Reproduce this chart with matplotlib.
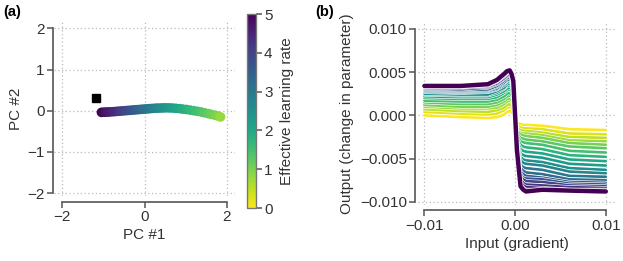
import matplotlib
matplotlib.use("Agg")
import matplotlib.pyplot as plt
import matplotlib.patheffects as pe
import numpy as np
from matplotlib.colors import Normalize
from matplotlib.cm import ScalarMappable

plt.rcParams['font.family'] = ['Liberation Sans', 'DejaVu Sans']
plt.rcParams['font.size'] = 11
plt.rcParams['text.color'] = '#333333'
plt.rcParams['axes.labelcolor'] = '#333333'
plt.rcParams['xtick.color'] = '#555555'
plt.rcParams['ytick.color'] = '#555555'
plt.rcParams['xtick.labelcolor'] = '#333333'
plt.rcParams['ytick.labelcolor'] = '#333333'

# ---- panel (a): trajectory in PC space, coloured by effective learning rate
pc_lr = [5.0, 4.9, 4.8, 4.7, 4.6, 4.5, 4.4, 4.3, 4.2, 4.1, 4.0, 3.9, 3.8, 3.7,
         3.6, 3.5, 3.4, 3.3, 3.2, 3.1, 3.0, 2.9, 2.8, 2.7, 2.6, 2.5, 2.4, 2.3,
         2.2, 2.1, 2.0, 1.9, 1.8, 1.7, 1.6, 1.5, 1.4, 1.3, 1.2, 1.1, 1.0, 0.9, 0.8]
pc1 = [-1.05, -1.0, -0.95, -0.9, -0.85, -0.78, -0.72, -0.66, -0.6, -0.54, -0.48,
       -0.42, -0.36, -0.3, -0.24, -0.18, -0.12, -0.06, 0.0, 0.06, 0.12, 0.18,
       0.25, 0.31, 0.38, 0.45, 0.52, 0.6, 0.68, 0.76, 0.85, 0.93, 1.02, 1.11,
       1.2, 1.29, 1.38, 1.46, 1.55, 1.63, 1.72, 1.79, 1.85]
pc2 = [-0.04, -0.037, -0.035, -0.032, -0.03, -0.025, -0.02, -0.015, -0.01,
       -0.005, 0.0, 0.005, 0.01, 0.015, 0.02, 0.025, 0.03, 0.035, 0.04, 0.045,
       0.05, 0.055, 0.06, 0.063, 0.065, 0.068, 0.07, 0.068, 0.065, 0.058, 0.05,
       0.04, 0.03, 0.015, 0.0, -0.015, -0.03, -0.05, -0.07, -0.09, -0.11, -0.13,
       -0.15]
start_point = (-1.17, 0.31)

# ---- panel (b): update rule curves (values in units of 1e-4)
grad_x = [-100, -60, -30, -20, -12, -9, -6, -4, -2, 2, 6, 9, 12, 30, 60, 100]
curve_lr = [0.0, 0.25, 0.5, 0.75, 1.0, 1.25, 1.5, 1.75, 2.0, 2.25, 2.5,
            2.75, 3.0, 3.25, 3.5, 3.75, 4.0, 4.25, 4.5, 4.75, 5.0]
curve_out = [
    [0, -2, -3, -2, 1, 4, 5, 4, 2, -9, -10, -11, -11, -12, -16, -17],
    [4, 2, 1, 2, 6, 9, 10, 9, 6, -12, -14, -15, -15, -16, -21, -22],
    [7, 5, 4, 6, 9, 12, 13, 12, 9, -15, -17, -18, -18, -20, -25, -26],
    [10, 8, 8, 9, 13, 16, 17, 16, 13, -17, -20, -21, -21, -23, -29, -30],
    [12, 10, 10, 12, 16, 19, 20, 18, 15, -18, -22, -23, -24, -26, -32, -34],
    [15, 13, 13, 15, 19, 22, 23, 22, 18, -21, -26, -27, -28, -30, -36, -38],
    [17, 16, 16, 18, 22, 25, 26, 24, 20, -23, -30, -31, -32, -34, -41, -43],
    [20, 19, 19, 21, 26, 29, 30, 28, 23, -26, -34, -36, -37, -39, -46, -48],
    [22, 21, 21, 24, 28, 31, 32, 30, 26, -29, -39, -41, -42, -44, -51, -53],
    [24, 23, 23, 26, 31, 34, 35, 33, 28, -31, -44, -46, -47, -49, -56, -58],
    [25, 24, 24, 28, 32, 36, 37, 35, 29, -33, -48, -51, -52, -54, -61, -63],
    [27, 26, 27, 30, 35, 38, 39, 37, 31, -35, -52, -55, -56, -58, -65, -67],
    [28, 27, 28, 31, 37, 40, 41, 38, 32, -37, -57, -60, -61, -63, -70, -71],
    [29, 28, 29, 33, 38, 41, 42, 40, 34, -39, -61, -64, -66, -68, -74, -75],
    [30, 29, 30, 34, 40, 43, 44, 41, 35, -40, -65, -68, -70, -72, -77, -78],
    [31, 30, 32, 36, 42, 45, 46, 43, 36, -40, -68, -72, -73, -74, -79, -80],
    [32, 32, 33, 37, 43, 46, 47, 44, 37, -41, -71, -74, -76, -77, -81, -82],
    [33, 33, 34, 39, 45, 48, 49, 46, 38, -41, -74, -78, -80, -81, -83, -84],
    [33, 33, 35, 39, 46, 49, 50, 47, 39, -41, -77, -81, -83, -84, -86, -86],
    [34, 34, 36, 40, 47, 50, 51, 48, 40, -41, -80, -84, -86, -86, -87, -87],
    [34, 34, 36, 41, 48, 51, 52, 48, 40, -40, -82, -86, -88, -86, -87, -88],
]

a_ticks = [-2, 0, 2]
a_yticks = [-2, -1, 0, 1, 2]
b_xticks = [-0.01, 0.0, 0.01]
b_xticklabels = ['\u22120.01', '0.00', '0.01']
b_yticks = [-0.010, -0.005, 0.0, 0.005, 0.010]
b_yticklabels = ['\u22120.010', '\u22120.005', '0.000', '0.005', '0.010']

cmap = plt.get_cmap('viridis_r')
norm = Normalize(0, 5)
spine_col = '#555555'
grid_kw = dict(color='#bbbbbb', linestyle=(0, (1, 2)), linewidth=0.9)


def style_axes(ax, xb, yb, left_off, bottom_off):
    for s in ['top', 'right']:
        ax.spines[s].set_visible(False)
    for s in ['left', 'bottom']:
        ax.spines[s].set_color(spine_col)
        ax.spines[s].set_linewidth(1.2)
    ax.spines['left'].set_position(('outward', left_off))
    ax.spines['bottom'].set_position(('outward', bottom_off))
    ax.spines['bottom'].set_bounds(*xb)
    ax.spines['left'].set_bounds(*yb)
    ax.tick_params(length=4, width=1.1, pad=2)
    ax.grid(True, **grid_kw)
    ax.set_axisbelow(True)


fig = plt.figure(figsize=(6.23, 2.61), dpi=100)

# panel (a)
ax1 = fig.add_axes([0.087, 0.249, 0.290, 0.671])
ax1.scatter(pc1, pc2, c=pc_lr, cmap=cmap, norm=norm, s=48, linewidths=0, zorder=3)
ax1.plot(start_point[0], start_point[1], 's', color='black', markersize=5.5, zorder=4)
ax1.set_xlim(-2.2, 2.2)
ax1.set_ylim(-2.07, 2.18)
ax1.set_xticks(a_ticks)
ax1.set_yticks(a_yticks)
ax1.set_xticklabels(['\u22122', '0', '2'])
ax1.set_yticklabels(['\u22122', '\u22121', '0', '1', '2'])
ax1.set_xlabel('PC #1', labelpad=3)
ax1.set_ylabel('PC #2', labelpad=3)
style_axes(ax1, (-2, 2), (-2, 2), 1, 4)

cax = fig.add_axes([0.396, 0.203, 0.0145, 0.743])
cb = fig.colorbar(ScalarMappable(norm=norm, cmap=cmap), cax=cax, ticks=[0, 1, 2, 3, 4, 5])
cb.set_label('Effective learning rate', labelpad=5)
cb.outline.set_edgecolor('#777777')
cb.outline.set_linewidth(1.0)
cax.tick_params(length=4, width=1.1, pad=2)

# panel (b)
ax2 = fig.add_axes([0.671, 0.215, 0.316, 0.701])
xs = np.array(grad_x) * 1e-4
for lr, vals in zip(curve_lr, curve_out):
    lw = 3.2 if lr == 5.0 else 1.9
    ax2.plot(xs, np.array(vals) * 1e-4, color=cmap(norm(lr)), linewidth=lw,
             solid_joinstyle='round', solid_capstyle='round', zorder=3,
             path_effects=[pe.Stroke(linewidth=lw + 0.9, foreground='white'), pe.Normal()])
ax2.set_xlim(-0.0107, 0.0110)
ax2.set_ylim(-0.01035, 0.0108)
ax2.set_xticks(b_xticks)
ax2.set_xticklabels(b_xticklabels)
ax2.set_yticks(b_yticks)
ax2.set_yticklabels(b_yticklabels)
ax2.set_xlabel('Input (gradient)', labelpad=3)
ax2.set_ylabel('Output (change in parameter)', labelpad=4)
style_axes(ax2, (-0.01, 0.01), (-0.010, 0.010), 2, 4)

fig.text(0.005, 0.955, '(a)', fontweight='bold', fontsize=10.5, va='center', color='black')
fig.text(0.506, 0.955, '(b)', fontweight='bold', fontsize=10.5, va='center', color='black')

fig.savefig('out.png', dpi=100)
